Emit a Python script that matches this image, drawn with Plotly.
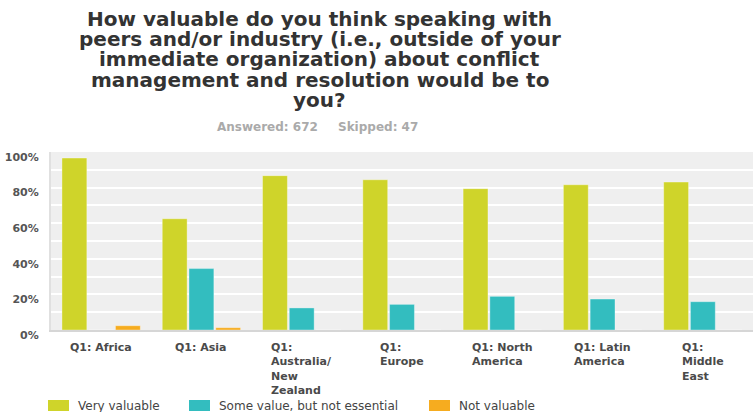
import plotly.graph_objects as go

# Survey question data (percent of respondents per region)
categories = ['Africa', 'Asia', 'Australia/New Zealand', 'Europe',
              'North America', 'Latin America', 'Middle East']
tick_labels = ['Q1: Africa', 'Q1: Asia', 'Q1:<br>Australia/<br>New<br>Zealand',
               'Q1:<br>Europe', 'Q1: North<br>America', 'Q1: Latin<br>America',
               'Q1:<br>Middle<br>East']
series_names = ['Very valuable', 'Some value, but not essential', 'Not valuable']
very_valuable = [96.6, 62.5, 86.7, 84.4, 79.4, 81.6, 83.1]
some_value = [0, 34.5, 12.4, 14.4, 18.9, 17.4, 15.9]
not_valuable = [2.4, 1.3, 0, 0, 0, 0, 0]
y_ticks = [0, 20, 40, 60, 80, 100]
y_tick_text = ['0%', '20%', '40%', '60%', '80%', '100%']

title_lines = [
    'How valuable do you think speaking with',
    'peers and/or industry (i.e., outside of your',
    'immediate organization) about conflict',
    'management and resolution would be to',
    'you?',
]
answered = 672
skipped = 47

colors = ['#CFD42A', '#33BDBF', '#F6AC1F']

# Layout geometry (pixels)
W, H = 754, 412
ML, MR, MT, MB = 51, 1, 152, 82
PW = W - ML - MR
PH = H - MT - MB


def px_x(x):
    return (x - ML) / PW


def px_y(y):
    return (H - MB - y) / PH


fig = go.Figure()
for name, vals, col in zip(series_names, [very_valuable, some_value, not_valuable], colors):
    fig.add_trace(go.Bar(
        x=categories,
        y=vals,
        name=name,
        marker=dict(color=col, line=dict(color='rgba(255,255,255,0.35)', width=1)),
        hoverinfo='skip',
    ))

annotations = []

# Title, one annotation per line to keep the tight line spacing
title_centres = [19, 39, 59, 80, 100]
for line, yc in zip(title_lines, title_centres):
    annotations.append(dict(
        text=line, xref='paper', yref='paper', x=px_x(319.5), y=px_y(yc),
        xanchor='center', yanchor='middle', showarrow=False,
        font=dict(family='DejaVu Sans', size=20, color='#333333', weight='bold'),
    ))

annotations.append(dict(
    text=f'Answered: {answered}', xref='paper', yref='paper', x=px_x(267.5), y=px_y(127),
    xanchor='center', yanchor='middle', showarrow=False,
    font=dict(family='DejaVu Sans', size=12, color='#aaaaaa', weight='bold'),
))
annotations.append(dict(
    text=f'Skipped: {skipped}', xref='paper', yref='paper', x=px_x(378), y=px_y(127),
    xanchor='center', yanchor='middle', showarrow=False,
    font=dict(family='DejaVu Sans', size=12, color='#aaaaaa', weight='bold'),
))

# Category labels: centred block, left aligned text
for cat, lab in zip(categories, tick_labels):
    annotations.append(dict(
        text=lab, xref='x', yref='paper', x=cat, y=0,
        xanchor='center', yanchor='top', align='left', yshift=-9, showarrow=False,
        font=dict(family='DejaVu Sans', size=11, color='#4a4a4a', weight='bold'),
    ))

# Legend drawn by hand (wide swatches like the original)
legend_x = [48, 189, 429]
shapes = []
for name, col, lx in zip(series_names, colors, legend_x):
    shapes.append(dict(
        type='rect', xref='paper', yref='paper',
        x0=px_x(lx), x1=px_x(lx + 21), y0=px_y(411), y1=px_y(400),
        fillcolor=col, line=dict(width=0),
    ))
    annotations.append(dict(
        text=name, xref='paper', yref='paper', x=px_x(lx + 28), y=px_y(405.5),
        xanchor='left', yanchor='middle', showarrow=False,
        font=dict(family='DejaVu Sans', size=12, color='#444444'),
    ))

fig.update_layout(
    width=W, height=H, autosize=False,
    margin=dict(l=ML, r=MR, t=MT, b=MB, pad=0),
    paper_bgcolor='white',
    plot_bgcolor='#EFEFEF',
    barmode='group',
    bargap=0.2,
    bargroupgap=0.07,
    showlegend=False,
    annotations=annotations,
    shapes=shapes,
    font=dict(family='DejaVu Sans'),
)
fig.update_xaxes(
    showticklabels=False, showgrid=False, zeroline=False,
    showline=True, linecolor='#D6D6D6', linewidth=2,
)
fig.update_yaxes(
    range=[0, 100], tickvals=y_ticks, ticktext=y_tick_text,
    showgrid=True, gridcolor='white', gridwidth=1.5,
    minor=dict(dtick=10, showgrid=True, gridcolor='white', gridwidth=1.5),
    zeroline=False, showline=True, linecolor='#E0E0E0', linewidth=2,
    ticklabelshift=5, ticklabelstandoff=8,
    tickfont=dict(family='DejaVu Sans', size=11, color='#555555', weight='bold'),
)

# drop the default page margin so the figure sits at the window's top-left corner
fig.write_html("out.html", config={'displayModeBar': False},
               post_script="document.body.style.margin='0';")
